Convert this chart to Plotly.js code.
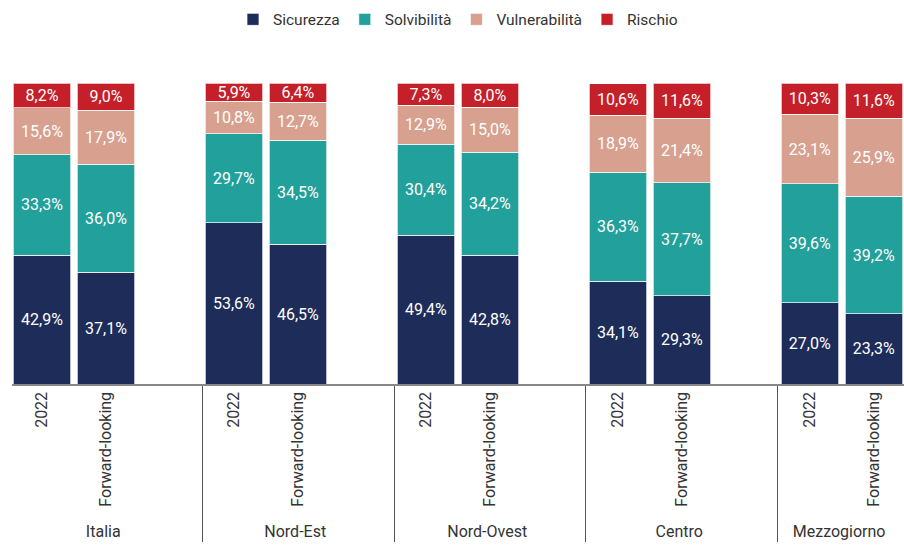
<!DOCTYPE html>
<html><head><meta charset="utf-8">
<script src="https://cdn.plot.ly/plotly-3.0.1.min.js"></script>
<style>html,body{margin:0;padding:0;background:#fff}#chart{width:904px;height:549px}</style>
</head><body><div id="chart"></div>
<script>
const groups = ["Italia", "Nord-Est", "Nord-Ovest", "Centro", "Mezzogiorno"];
const periods = ["2022", "Forward-looking"];
const sicurezza     = [42.9, 37.1, 53.6, 46.5, 49.4, 42.8, 34.1, 29.3, 27.0, 23.3];
const solvibilita   = [33.3, 36.0, 29.7, 34.5, 30.4, 34.2, 36.3, 37.7, 39.6, 39.2];
const vulnerabilita = [15.6, 17.9, 10.8, 12.7, 12.9, 15.0, 18.9, 21.4, 23.1, 25.9];
const rischio       = [8.2, 9.0, 5.9, 6.4, 7.3, 8.0, 10.6, 11.6, 10.3, 11.6];
const seriesNames = ["Sicurezza", "Solvibilità", "Vulnerabilità", "Rischio"];
const colors = ["#1e2c5a", "#22a09b", "#d8a08f", "#c5202a"];
const FONT = "Roboto, sans-serif";

// build multicategory x with an empty third slot per group
const outer = [], inner = [];
groups.forEach(g => { periods.forEach(p => { outer.push(g); inner.push(p); }); outer.push(g); inner.push(" "); });
function expand(vals) {
  const out = []; let k = 0;
  groups.forEach(() => { out.push(vals[k++]); out.push(vals[k++]); out.push(null); });
  return out;
}
const fmt = v => v == null ? "" : v.toFixed(1).replace(".", ",") + "%";
const allSeries = [sicurezza, solvibilita, vulnerabilita, rischio];
const traces = allSeries.map((vals, i) => {
  const y = expand(vals);
  return {
    type: "bar", name: seriesNames[i], x: [outer, inner], y: y,
    text: y.map(fmt), textposition: "inside", insidetextanchor: "middle",
    textangle: 0, constraintext: "none",
    textfont: {family: FONT, size: 16, color: "#ffffff"},
    marker: {color: colors[i], line: {color: "rgba(255,255,255,0.7)", width: 1}},
    hoverinfo: "skip"
  };
});
const layout = {
  barmode: "stack", bargap: 0.1,
  width: 904, height: 549,
  margin: {l: 12, r: 0, t: 83, b: 165},
  paper_bgcolor: "#fff", plot_bgcolor: "#fff",
  font: {family: FONT, color: "#333", size: 16},
  showlegend: true,
  legend: {orientation: "h", x: 0.5, xanchor: "center", y: 1.21, yanchor: "middle",
           font: {family: FONT, size: 15.5, color: "#333"}, traceorder: "normal", itemwidth: 30},
  xaxis: {type: "multicategory", range: [-0.47, 13.47], tickangle: -90,
          showline: true, linecolor: "#888", linewidth: 1.5, ticks: "",
          showdividers: true, dividercolor: "#555", dividerwidth: 1,
          tickfont: {family: FONT, size: 16, color: "#333"}, showgrid: false},
  yaxis: {range: [0, 100.1], visible: false, showgrid: false, zeroline: false}
};
Plotly.newPlot("chart", traces, layout, {displayModeBar: false, staticPlot: true});
</script></body></html>
